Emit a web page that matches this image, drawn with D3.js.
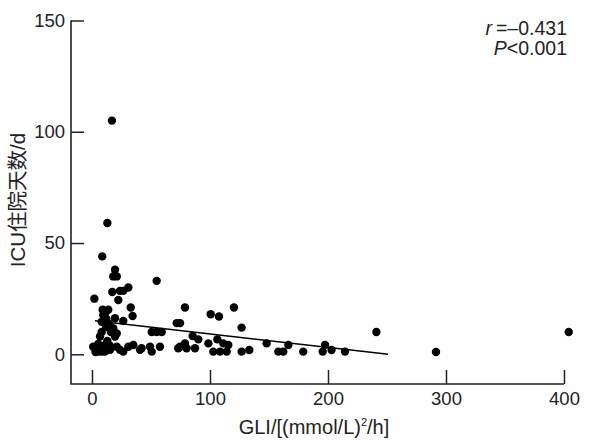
<!DOCTYPE html>
<html>
<head>
<meta charset="utf-8">
<script src="https://cdn.jsdelivr.net/npm/d3@7"></script>
<style>
  body { margin: 0; background: #fff; }
  text { font-family: "Liberation Sans", Arial, "Noto Sans CJK SC", sans-serif; fill: #222; }
</style>
</head>
<body>
<svg id="chart" width="614" height="440"></svg>
<script>
// GLI value of each patient
const gli = [16.9, 13, 8.7, 19.5, 18, 21, 54.8, 30.8, 26.5, 23.7,
  17.2, 2, 22.3, 32.8, 78.8, 13.8, 11, 9.6, 34.4, 100.6,
  107.6, 120.3, 19.5, 8.2, 26.5, 71.8, 74.6, 126.8, 11.9, 18,
  50.6, 54.8, 59.1, 8.2, 21, 6.8, 19.5, 85.3, 90.1, 106.2,
  5.3, 8.2, 11, 4, 21, 23.7, 26.5, 30.8, 35, 40.7,
  42, 49.2, 50.6, 57.6, 73.1, 78.8, 74.6, 87.3, 80.2, 98.6,
  111.3, 115.5, 102.8, 108.5, 114.1, 126.8, 133.3, 148, 157.9, 162.1,
  166.4, 179, 195.5, 197.5, 203, 214.4, 241, 291.5, 404, 8.2,
  5.3, 11, 15.3, 1, 13, 16, 14, 3, 12, 9, 15];
// ICU stay (days), same order
const icuDays = [105, 59, 44, 38, 35, 35, 33, 30, 28.5, 28.5,
  28, 25, 24.4, 21, 21, 20, 18.4, 17.6, 17.2, 18,
  17, 21, 16.2, 14.6, 15, 14, 14, 12, 12.4, 11.7,
  10, 10, 10, 10, 9.4, 8, 8, 8.2, 6.7, 6.7,
  4.6, 3.4, 4.2, 3.4, 3.4, 2, 1.2, 3.4, 4.2, 2,
  2.7, 3.4, 1.2, 3.4, 2.7, 4.9, 3.4, 2.7, 2.7, 4.9,
  4.9, 4.2, 1.2, 1.2, 1.2, 1.2, 1.9, 4.9, 1.2, 1.2,
  4.2, 1.2, 1.2, 4.2, 1.9, 1.2, 10, 1, 10, 1.2,
  1.2, 1.2, 2, 3.4, 6, 10, 14, 1, 16, 20, 4];
// fitted line ends
const fitX = [2.5, 251];
const fitY = [15.1, 0];
const xTicks = [0, 100, 200, 300, 400];
const yTicks = [0, 50, 100, 150];

const svg = d3.select("#chart");

const x = d3.scaleLinear().domain([0, 400]).range([92, 564]);
const y = d3.scaleLinear().domain([0, 150]).range([354.3, 20.5]);
const axisX = 71, axisY = 384;

// axes (ticks point inward)
svg.append("g")
  .attr("transform", "translate(0," + axisY + ")")
  .call(d3.axisBottom(x).tickValues(xTicks).tickSize(-14).tickSizeOuter(0).tickPadding(8))
  .call(g => g.select(".domain").remove())
  .call(g => g.selectAll("line").attr("stroke", "#222").attr("stroke-width", 1.5))
  .call(g => g.selectAll("text").attr("font-size", 18.5));

svg.append("g")
  .attr("transform", "translate(" + axisX + ",0)")
  .call(d3.axisLeft(y).tickValues(yTicks).tickSize(-13).tickSizeOuter(0).tickPadding(6))
  .call(g => g.select(".domain").remove())
  .call(g => g.selectAll("line").attr("stroke", "#222").attr("stroke-width", 1.5))
  .call(g => g.selectAll("text").attr("font-size", 18.5));

svg.append("path")
  .attr("d", "M" + x.range()[1] + "," + axisY + "H" + axisX + "V" + y(150))
  .attr("fill", "none")
  .attr("stroke", "#222")
  .attr("stroke-width", 1.6);

svg.selectAll("g.tick text").attr("fill", "#222");
svg.selectAll("g").attr("font-family", null);

// points
svg.append("g")
  .selectAll("circle")
  .data(gli.map((d, i) => [d, icuDays[i]]))
  .join("circle")
    .attr("cx", d => x(d[0]))
    .attr("cy", d => y(d[1]))
    .attr("r", 4.2)
    .attr("fill", "#000");

// regression line
svg.append("path")
  .datum(fitX.map((d, i) => [d, fitY[i]]))
  .attr("d", d3.line().x(d => x(d[0])).y(d => y(d[1])))
  .attr("stroke", "#000")
  .attr("stroke-width", 1.5)
  .attr("fill", "none");

// titles
svg.append("text")
  .attr("transform", "translate(25,200) rotate(-90)")
  .attr("text-anchor", "middle")
  .attr("font-size", 20.5)
  .text("ICU住院天数/d");

const xt = svg.append("text")
  .attr("x", 314).attr("y", 434)
  .attr("text-anchor", "middle")
  .attr("font-size", 20);
xt.append("tspan").text("GLI/[(mmol/L)");
xt.append("tspan").attr("font-size", 11).attr("dy", -8).text("2");
xt.append("tspan").attr("dy", 8).text("/h]");

// stats
const s1 = svg.append("text").attr("x", 567).attr("y", 35).attr("text-anchor", "end").attr("font-size", 19.5);
s1.append("tspan").attr("font-style", "italic").text("r");
s1.append("tspan").attr("dx", 4).text("=–0.431");
const s2 = svg.append("text").attr("x", 567).attr("y", 55).attr("text-anchor", "end").attr("font-size", 19.5);
s2.append("tspan").attr("font-style", "italic").text("P");
s2.append("tspan").text("<0.001");
</script>
</body>
</html>
